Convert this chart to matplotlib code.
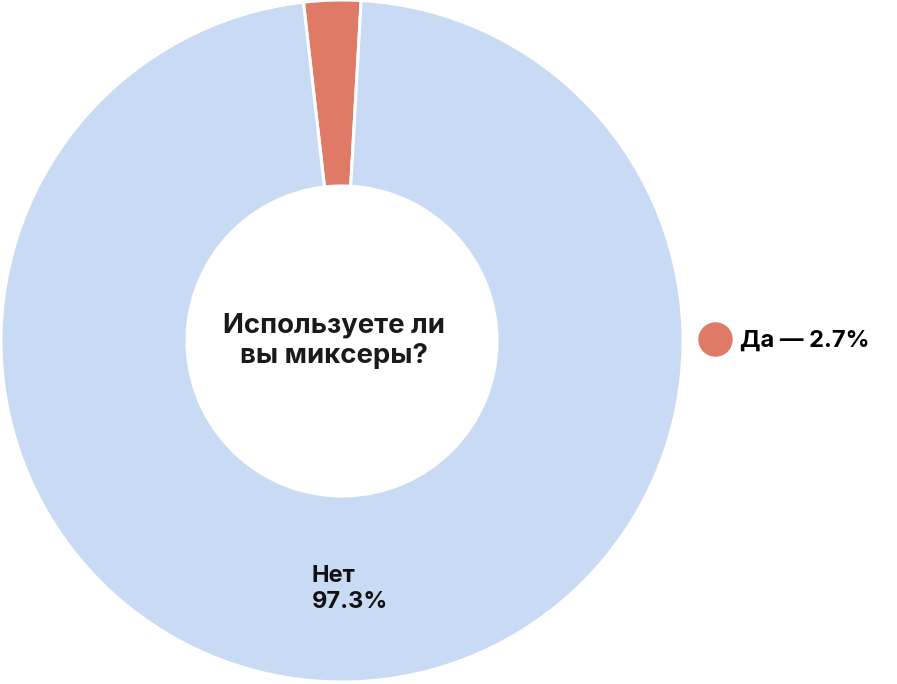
import matplotlib.pyplot as plt
from matplotlib.lines import Line2D

# Data
labels = ['Да', 'Нет']
shares = [2.7, 97.3]
colors = ['#DF7A66', '#C9DAF4']
title = 'Используете ли\nвы миксеры?'

plt.rcParams['font.family'] = ['Inter', 'DejaVu Sans']

W, H = 897, 684
fig = plt.figure(figsize=(W / 100, H / 100), dpi=100)

# axes holding the donut, in pixel terms: x 1..683, y 0..682 from top
ax = fig.add_axes([1 / W, 2 / H, 682 / W, 682 / H])
wedges, _ = ax.pie(shares, colors=colors, startangle=96.5, counterclock=False,
                   radius=1.0,
                   wedgeprops=dict(width=1 - 155 / 341, edgecolor='white', linewidth=2.2))
ax.set_xlim(-1, 1)
ax.set_ylim(-1, 1)
ax.set_aspect('equal')
ax.axis('off')

# centre title
ax.text(-0.025, 0.0, title, ha='center', va='center', fontsize=19.8,
        fontweight='bold', color='#1a1a1a', linespacing=1.2)

# label inside the big slice
ax.text(-0.088, -0.727, f'{labels[1]}\n{shares[1]}%', ha='left', va='center',
        fontsize=17, fontweight='bold', color='#111111', linespacing=1.2)

# legend for the small slice
fs = 17
handle = Line2D([], [], marker='o', linestyle='none', markersize=23.8,
                markerfacecolor=colors[0], markeredgecolor=colors[0])
fig.legend([handle], [f'{labels[0]} — {shares[0]}%'], loc='center left',
           bbox_to_anchor=(698 / W, 1 - 341 / H), frameon=False,
           prop=dict(family=['Inter', 'DejaVu Sans'], weight='bold', size=fs),
           handletextpad=0.36, borderaxespad=0, borderpad=0,
           handlelength=33 / (fs * 100 / 72))

fig.savefig('out.png', dpi=100)
